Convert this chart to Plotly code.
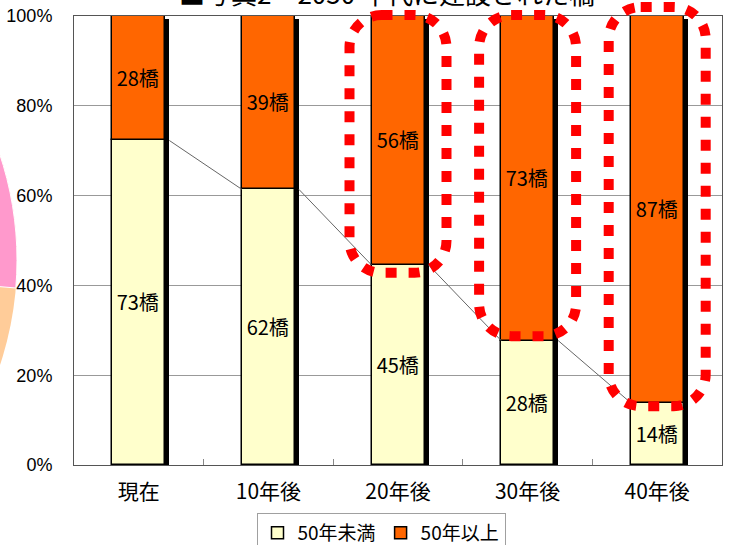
import math
import plotly.graph_objects as go

# ---------------- data ----------------
categories = ["現在", "10年後", "20年後", "30年後", "40年後"]
under50 = [73, 62, 45, 28, 14]      # 50年未満 (bridges)
over50 = [28, 39, 56, 73, 87]       # 50年以上 (bridges)
series_names = ["50年未満", "50年以上"]
y_tick_vals = [0, 20, 40, 60, 80, 100]
y_tick_text = ["0%", "20%", "40%", "60%", "80%", "100%"]
title_text = "■写真2　2050 年代に建設された橋"

# highlighted categories (index, bottom %, top %) for the red dotted outlines
highlights = [(2, 42.8, 100.2), (3, 28.7, 100.2), (4, 13.1, 102.0)]

# ---------------- derived ----------------
totals = [a + b for a, b in zip(under50, over50)]
pct_under = [a / t * 100 for a, t in zip(under50, totals)]
pct_over = [b / t * 100 for b, t in zip(over50, totals)]
xs = list(range(len(categories)))

# ---------------- layout geometry ----------------
W, H = 732, 545
L, R, T, B = 74, 10, 16, 80
PW, PH = W - L - R, H - T - B
XMIN, XMAX = -0.5, len(categories) - 0.5
UNIT_PX = PW / (XMAX - XMIN)
BW = 53 / UNIT_PX                      # bar width in axis units
SH_DX = 4 / UNIT_PX                    # shadow offset
SH_DY = 3 / PH * 100                   # shadow drop in %

def dx2p(x):
    return (x - XMIN) / (XMAX - XMIN)

def dy2p(y):
    return y / 100.0

def px2p(px):
    return (px - L) / PW

def py2p(py):
    return (T + PH - py) / PH

CJK = "Noto Sans CJK JP"
fig = go.Figure()

# shadow behind each column
fig.add_trace(go.Bar(
    x=xs, y=[100 - SH_DY for _ in totals], base=[0] * len(xs),
    width=BW, offset=-BW / 2 + SH_DX,
    marker=dict(color="black", line=dict(width=0)),
    showlegend=False, hoverinfo="skip"))

fig.add_trace(go.Bar(
    x=xs, y=pct_under, base=[0] * len(xs), width=BW, offset=-BW / 2,
    name=series_names[0],
    marker=dict(color="#FFFFCC", line=dict(color="black", width=1.5)),
    text=[f"{v}橋" for v in under50], textposition="inside",
    insidetextanchor="middle", constraintext="none",
    textfont=dict(family=CJK, size=20, color="black")))

fig.add_trace(go.Bar(
    x=xs, y=pct_over, base=pct_under, width=BW, offset=-BW / 2,
    name=series_names[1],
    marker=dict(color="#FF6600", line=dict(color="black", width=1.5)),
    text=[f"{v}橋" for v in over50], textposition="inside",
    insidetextanchor="middle", constraintext="none",
    textfont=dict(family=CJK, size=20, color="black")))

# series lines
lx, ly = [], []
for i in range(len(xs) - 1):
    lx += [xs[i] + BW / 2 + SH_DX, xs[i + 1] - BW / 2, None]
    ly += [pct_under[i], pct_under[i + 1], None]
fig.add_trace(go.Scatter(x=lx, y=ly, mode="lines",
                         line=dict(color="#666666", width=1),
                         showlegend=False, hoverinfo="skip"))

shapes = []

# partial pie fragment at the far left (decoration from a neighbouring chart)
cx, cy, r = -316, 260, 333
shapes.append(dict(type="circle", xref="paper", yref="paper",
                   x0=px2p(cx - r), x1=px2p(cx + r),
                   y0=py2p(cy + r), y1=py2p(cy - r),
                   fillcolor="#FFCC99", line=dict(width=0), layer="below"))
ang0 = math.atan2(28, 332)
pts = [(cx, cy)]
n = 40
for k in range(n + 1):
    a = ang0 - (ang0 + math.pi / 2) * k / n
    pts.append((cx + r * math.cos(a), cy + r * math.sin(a)))
path = "M " + " L ".join(f"{px2p(p[0]):.5f},{py2p(p[1]):.5f}" for p in pts) + " Z"
shapes.append(dict(type="path", xref="paper", yref="paper", path=path,
                   fillcolor="#FF99CC", line=dict(color="white", width=1),
                   layer="below"))

# red dotted rounded outlines
HALF = 48.5 / UNIT_PX
rx = 32 / PW
ry = 32 / PH
kk = 0.5523
for idx, ybot, ytop in highlights:
    x0, x1 = dx2p(xs[idx] - HALF), dx2p(xs[idx] + HALF)
    y0, y1 = dy2p(ybot), dy2p(ytop)
    p = (f"M {x0+rx},{y1} L {x1-rx},{y1} "
         f"C {x1-rx+kk*rx},{y1} {x1},{y1-ry+kk*ry} {x1},{y1-ry} "
         f"L {x1},{y0+ry} "
         f"C {x1},{y0+ry-kk*ry} {x1-rx+kk*rx},{y0} {x1-rx},{y0} "
         f"L {x0+rx},{y0} "
         f"C {x0+rx-kk*rx},{y0} {x0},{y0+ry-kk*ry} {x0},{y0+ry} "
         f"L {x0},{y1-ry} "
         f"C {x0},{y1-ry+kk*ry} {x0+rx-kk*rx},{y1} {x0+rx},{y1} Z")
    shapes.append(dict(type="path", xref="paper", yref="paper", path=p,
                       line=dict(color="#FF0000", width=10, dash="11px,12px"),
                       layer="above"))

fig.update_layout(
    width=W, height=H,
    margin=dict(l=L, r=R, t=T, b=B, pad=0, autoexpand=False),
    paper_bgcolor="white", plot_bgcolor="white",
    barmode="overlay",
    bargap=0,
    shapes=shapes,
    showlegend=True,
    legend=dict(orientation="h", x=px2p(381), xanchor="center",
                y=py2p(513), yanchor="top",
                bordercolor="#A0A0A0", borderwidth=1, bgcolor="white",
                font=dict(family=CJK, size=19, color="black"),
                itemwidth=30, traceorder="normal"),
    annotations=[dict(text=title_text, xref="paper", yref="paper",
                      x=px2p(387), y=py2p(13), xanchor="center", yanchor="bottom",
                      showarrow=False,
                      font=dict(family=CJK, size=26, color="black"))],
    xaxis=dict(range=[XMIN, XMAX], tickmode="array", tickvals=xs,
               ticktext=categories, ticks="", showgrid=False, zeroline=False,
               showline=True, linecolor="#555555", linewidth=1, mirror=True,
               tickfont=dict(family=CJK, size=21, color="black"),
               ticklabelstandoff=8,
               minor=dict(tickmode="array", tickvals=[i + 0.5 for i in xs[:-1]],
                          ticks="inside", ticklen=6, tickcolor="#888888",
                          showgrid=False),
               fixedrange=True),
    yaxis=dict(range=[0, 100], tickmode="array", tickvals=y_tick_vals,
               ticktext=y_tick_text, ticks="", showgrid=True,
               gridcolor="#999999", gridwidth=1, zeroline=False,
               showline=True, linecolor="#555555", linewidth=1, mirror=True,
               tickfont=dict(family="Liberation Sans", size=18, color="black"),
               ticklabelstandoff=17, fixedrange=True),
)

fig.write_html("out.html")
